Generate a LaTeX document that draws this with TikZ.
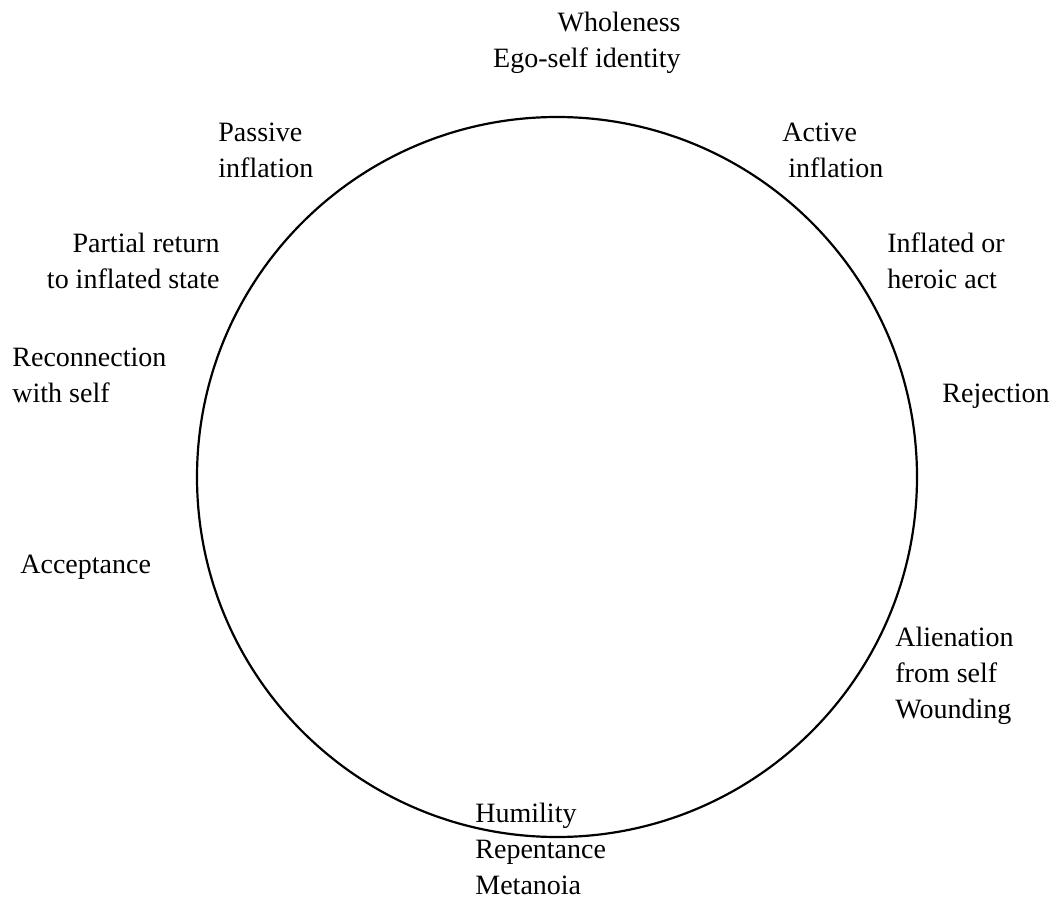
\documentclass[tikz,border=0pt]{standalone}
\usepackage{fontspec}
\setmainfont{Liberation Serif}
\usepackage{tikz}

\begin{document}
\begin{tikzpicture}[x=0.5pt, y=-0.5pt,
  every node/.style={inner sep=0pt, font=\fontsize{14}{18}\selectfont},
  lbl/.style={anchor=base west, align=left},
  rlbl/.style={anchor=base east, align=right}]
\useasboundingbox (0,0) rectangle (1061,899);
\node[draw, line width=1.1pt, circle, minimum size=360pt] (cycle) at (557,477) {};
\node[rlbl] (whole) at (681,68) {Wholeness\\Ego-self identity};
\node[lbl] (passive) at (218,177) {Passive\\inflation};
\node[lbl] (active) at (782,177) {Active\\\hspace*{3pt}inflation};
\node[rlbl] (partial) at (220,288) {Partial return\\to inflated state};
\node[lbl] (heroic) at (887,288) {Inflated or\\heroic act};
\node[lbl] (reconn) at (12,402) {Reconnection\\with self};
\node[lbl] (reject) at (942,402) {Rejection};
\node[lbl] (accept) at (20,573) {Acceptance};
\node[lbl] (alien) at (895,718) {Alienation\\from self\\Wounding};
\node[lbl] (humil) at (475,894) {Humility\\Repentance\\Metanoia};
\end{tikzpicture}
\end{document}
